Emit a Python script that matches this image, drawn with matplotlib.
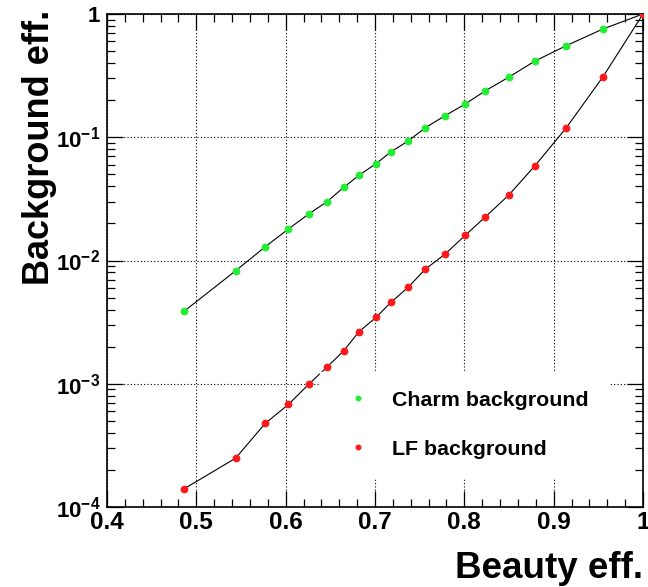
import matplotlib
matplotlib.use("Agg")
import matplotlib.pyplot as plt
from matplotlib.ticker import FixedLocator, FixedFormatter, LogLocator, MultipleLocator, NullFormatter

plt.rcParams['font.family'] = ['Liberation Sans', 'DejaVu Sans']
plt.rcParams['font.weight'] = 'bold'
plt.rcParams['mathtext.default'] = 'regular'

# beauty efficiency (x) and background efficiencies (y)
beauty_eff = [0.486, 0.544, 0.577, 0.603, 0.626, 0.646, 0.665, 0.682, 0.701, 0.718,
              0.737, 0.756, 0.778, 0.801, 0.823, 0.850, 0.879, 0.914, 0.955, 1.0]
charm_bkg = [3.86e-3, 8.25e-3, 1.29e-2, 1.80e-2, 2.39e-2, 2.99e-2, 3.92e-2, 4.91e-2, 6.10e-2, 7.62e-2,
             9.31e-2, 0.119, 0.149, 0.186, 0.237, 0.308, 0.415, 0.553, 0.755, 1.0]
lf_bkg = [1.40e-4, 2.49e-4, 4.76e-4, 6.79e-4, 9.93e-4, 1.36e-3, 1.85e-3, 2.64e-3, 3.45e-3, 4.59e-3,
          6.05e-3, 8.47e-3, 1.12e-2, 1.60e-2, 2.24e-2, 3.41e-2, 5.87e-2, 0.119, 0.308, 1.0]

x_ticks = [0.4, 0.5, 0.6, 0.7, 0.8, 0.9, 1.0]
x_ticklabels = ['0.4', '0.5', '0.6', '0.7', '0.8', '0.9', '1']
y_ticks = [1e-4, 1e-3, 1e-2, 1e-1, 1]
y_ticklabels = ['$10^{-4}$', '$10^{-3}$', '$10^{-2}$', '$10^{-1}$', '1']

fig = plt.figure(figsize=(6.48, 5.87), dpi=100)
ax = fig.add_axes([107 / 648, 1 - 507 / 587, 536 / 648, 493 / 587])

ax.plot(beauty_eff, charm_bkg, color='black', lw=0.8, zorder=2)
ax.plot(beauty_eff, lf_bkg, color='black', lw=0.8, zorder=2)
ax.plot(beauty_eff, charm_bkg, ls='none', marker='o', ms=4.6, color='#22ee33',
        mec='#22ee33', label='Charm background', zorder=3)
ax.plot(beauty_eff, lf_bkg, ls='none', marker='o', ms=4.6, color='#ff1a1a',
        mec='#ff1a1a', label='LF background', zorder=3)

ax.set_yscale('log')
ax.set_xlim(0.4, 1.0)
ax.set_ylim(1e-4, 1)

ax.xaxis.set_major_locator(FixedLocator(x_ticks))
ax.xaxis.set_major_formatter(FixedFormatter(x_ticklabels))
ax.xaxis.set_minor_locator(MultipleLocator(0.02))
ax.yaxis.set_major_locator(FixedLocator(y_ticks))
ax.yaxis.set_major_formatter(FixedFormatter(y_ticklabels))
ax.yaxis.set_minor_locator(LogLocator(base=10, subs=range(2, 10)))
ax.yaxis.set_minor_formatter(NullFormatter())

ax.tick_params(which='both', direction='in', top=True, right=True, width=0.9)
ax.tick_params(which='major', length=11.5)
ax.tick_params(which='minor', length=6)
ax.tick_params(axis='x', labelsize=17.5, pad=3)
ax.tick_params(axis='y', labelsize=16, pad=5)
for lbl in ax.get_xticklabels() + ax.get_yticklabels():
    lbl.set_fontweight('bold')
for s in ax.spines.values():
    s.set_linewidth(1.2)

ax.grid(True, which='major', color='black', ls=(0, (1, 2)), lw=0.8, zorder=1)
ax.set_axisbelow(True)

leg = ax.legend(loc='upper left', bbox_to_anchor=(320 / 648, 1 - 372 / 587),
                bbox_transform=fig.transFigure, frameon=True, fancybox=False,
                facecolor='white', edgecolor='white', framealpha=1,
                prop={'size': 15.4, 'weight': 'bold'}, borderpad=0.88, borderaxespad=0,
                handlelength=1.8, handletextpad=0.69, labelspacing=1.4, markerscale=0.7)
leg.set_zorder(5)

fig.text(643 / 648, 1 - 578 / 587, 'Beauty eff.', ha='right', va='baseline',
         fontsize=26.5, fontweight='bold')
fig.text(22 / 648, 1 - 10 / 587, 'Background eff.', ha='left', va='top', rotation=90,
         fontsize=26, fontweight='bold')

fig.savefig('out.png', dpi=100)
